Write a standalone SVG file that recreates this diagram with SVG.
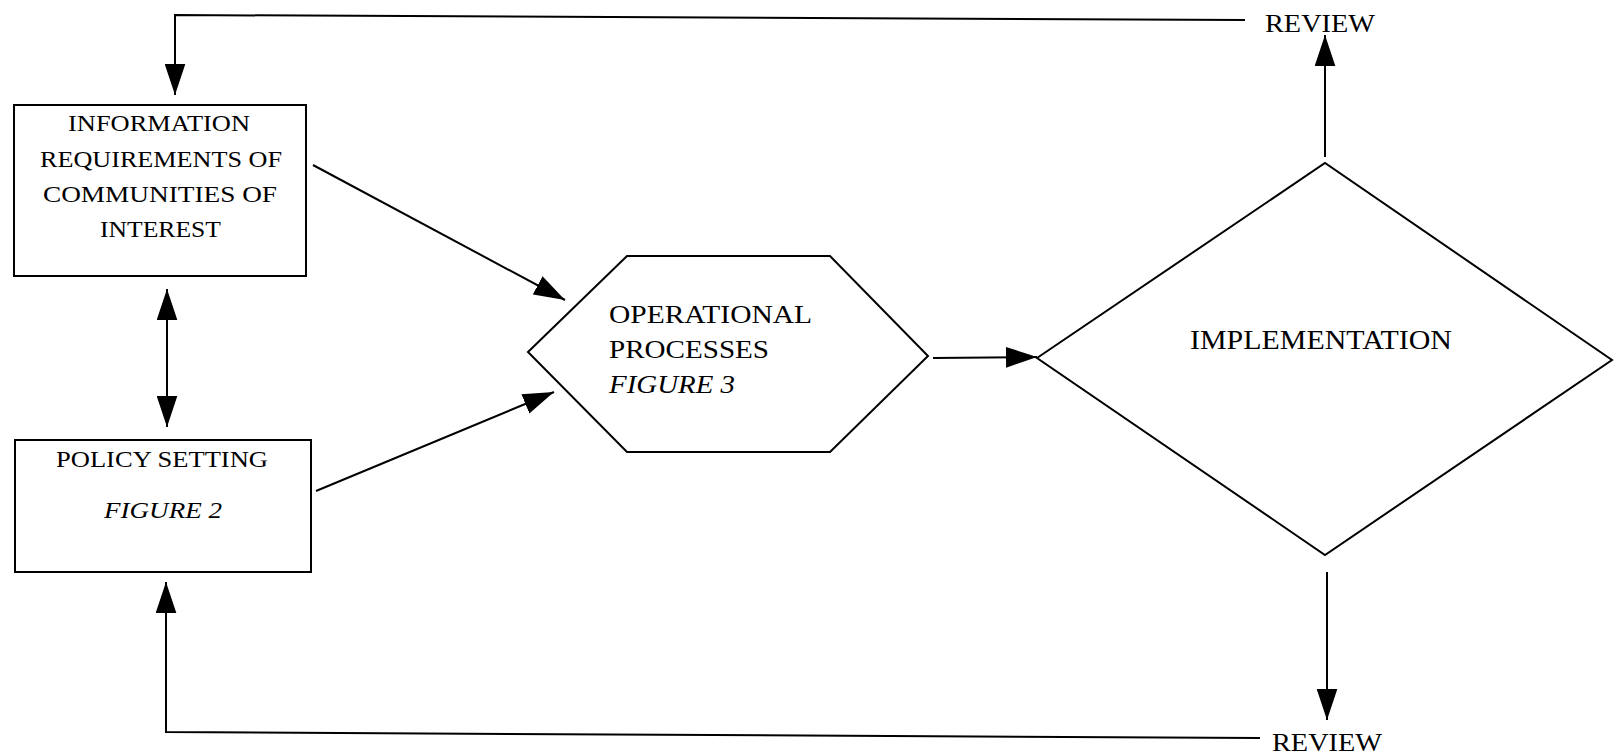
<svg xmlns="http://www.w3.org/2000/svg" width="1616" height="756" viewBox="0 0 1616 756">
<defs>
<marker id="ah" viewBox="0 0 30 20" refX="30" refY="10" markerWidth="31" markerHeight="21" markerUnits="userSpaceOnUse" orient="auto-start-reverse">
<path d="M0,0 L30,10 L0,20 Z" fill="#000"/>
</marker>
<style>
.shape{fill:#fff;stroke:#000;stroke-width:2}
.conn{fill:none;stroke:#000;stroke-width:2}
.t{font-family:"Liberation Serif","Times New Roman",serif;fill:#000}
.it{font-style:italic}
</style>
</defs>
<rect width="1616" height="756" fill="#fff"/>
<g id="connectors">
<polyline class="conn" points="1245,20 175,15 175,95" marker-end="url(#ah)"/>
<line class="conn" x1="167" y1="289" x2="167" y2="427" marker-start="url(#ah)" marker-end="url(#ah)"/>
<polyline class="conn" points="1260,738 166,732 166,582" marker-end="url(#ah)"/>
<line class="conn" x1="313" y1="165" x2="565" y2="300" marker-end="url(#ah)"/>
<line class="conn" x1="316" y1="491" x2="554" y2="392" marker-end="url(#ah)"/>
<line class="conn" x1="933" y1="358" x2="1037" y2="357" marker-end="url(#ah)"/>
<line class="conn" x1="1325" y1="157" x2="1325" y2="35" marker-end="url(#ah)"/>
<line class="conn" x1="1327" y1="572" x2="1327" y2="720" marker-end="url(#ah)"/>
</g>
<g id="review-top">
<text class="t" x="1265" y="32" font-size="26" textLength="110" lengthAdjust="spacingAndGlyphs">REVIEW</text>
</g>
<g id="review-bottom">
<text class="t" x="1272" y="751" font-size="26" textLength="110" lengthAdjust="spacingAndGlyphs">REVIEW</text>
</g>
<g id="info">
<rect class="shape" x="14" y="105" width="292" height="171"/>
<text class="t" font-size="23" x="68" y="131" textLength="182" lengthAdjust="spacingAndGlyphs">INFORMATION</text>
<text class="t" font-size="23" x="40" y="167" textLength="242" lengthAdjust="spacingAndGlyphs">REQUIREMENTS OF</text>
<text class="t" font-size="23" x="43" y="202" textLength="234" lengthAdjust="spacingAndGlyphs">COMMUNITIES OF</text>
<text class="t" font-size="23" x="100" y="237" textLength="121" lengthAdjust="spacingAndGlyphs">INTEREST</text>
</g>
<g id="policy">
<rect class="shape" x="15" y="440" width="296" height="132"/>
<text class="t" font-size="24" x="56" y="467" textLength="212" lengthAdjust="spacingAndGlyphs">POLICY SETTING</text>
<text class="t it" font-size="24" x="104" y="518" textLength="118" lengthAdjust="spacingAndGlyphs">FIGURE 2</text>
</g>
<g id="operational">
<polygon class="shape" points="528,352 627,256 830,256 928,356 830,452 627,452"/>
<text class="t" font-size="26" x="609" y="323" textLength="203" lengthAdjust="spacingAndGlyphs">OPERATIONAL</text>
<text class="t" font-size="26" x="609" y="358" textLength="160" lengthAdjust="spacingAndGlyphs">PROCESSES</text>
<text class="t it" font-size="26" x="609" y="393" textLength="126" lengthAdjust="spacingAndGlyphs">FIGURE 3</text>
</g>
<g id="implementation">
<polygon class="shape" points="1037,358 1325,163 1612,360 1325,555"/>
<text class="t" font-size="27" x="1190" y="349" textLength="262" lengthAdjust="spacingAndGlyphs">IMPLEMENTATION</text>
</g>
</svg>
